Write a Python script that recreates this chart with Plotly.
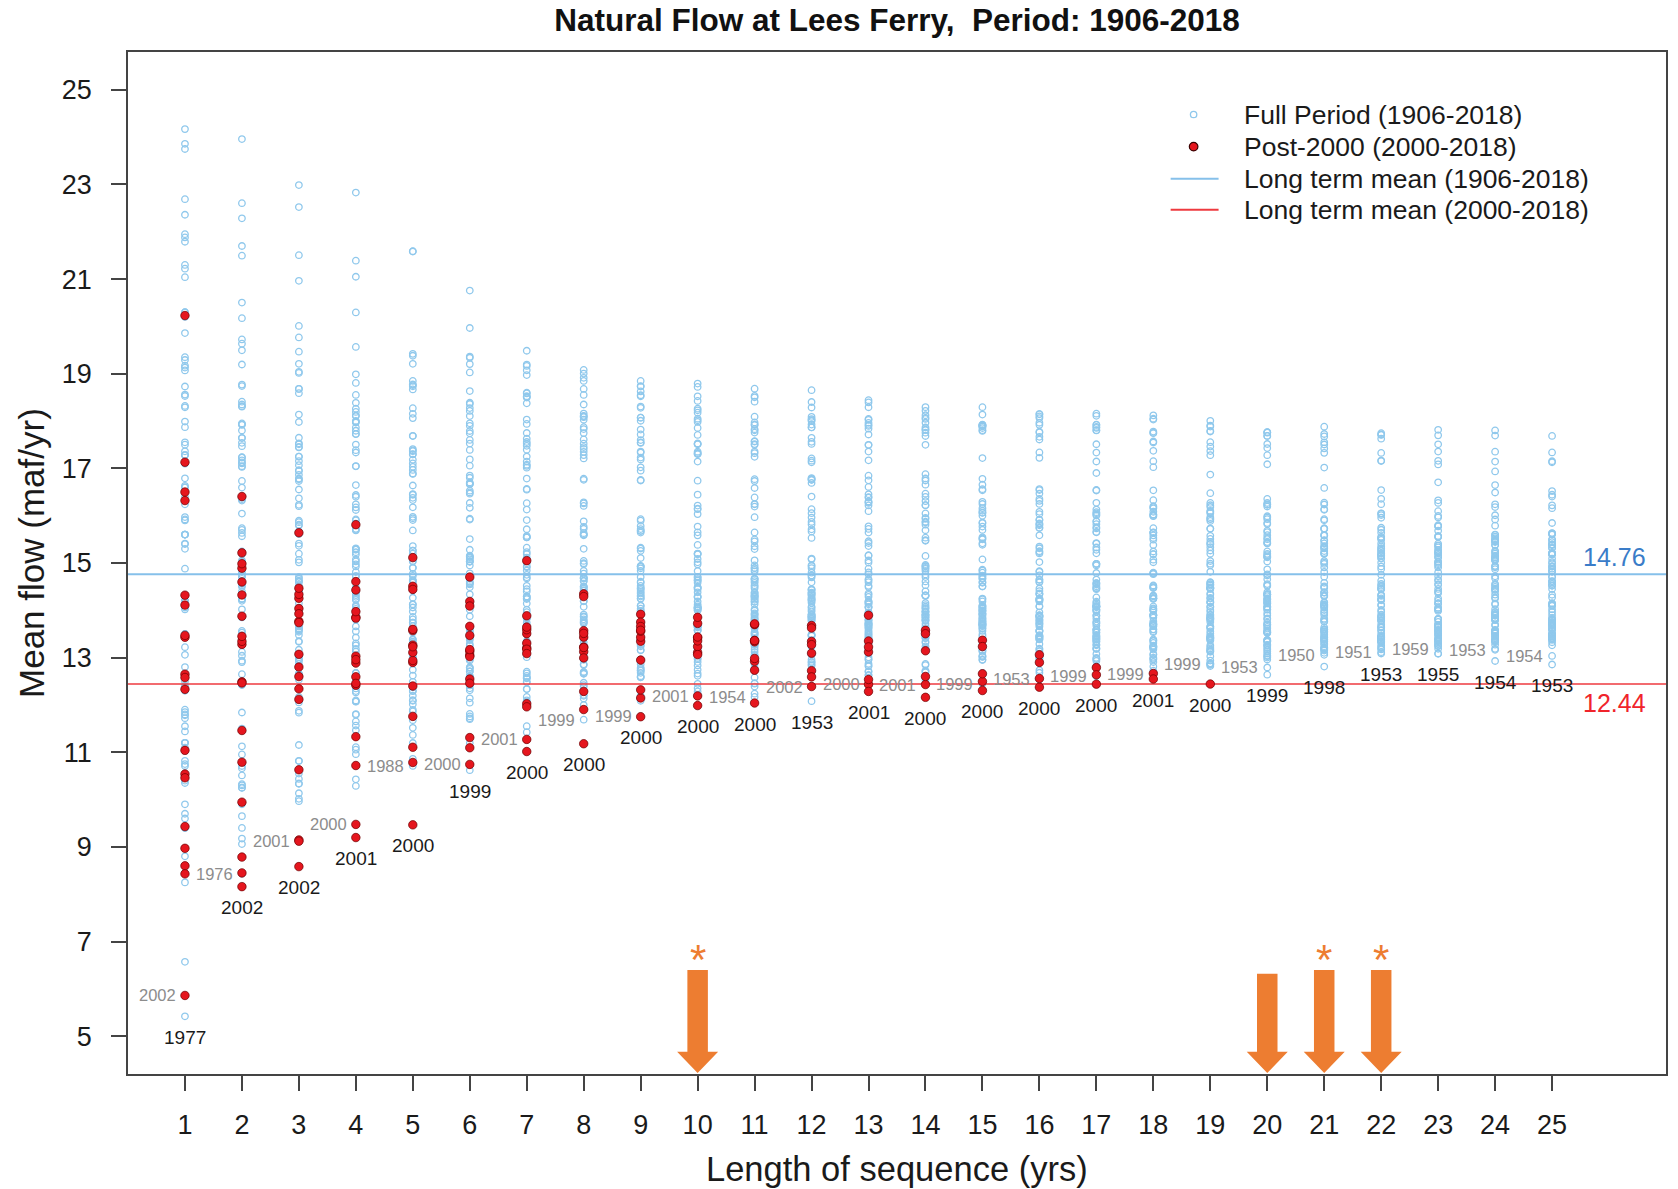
import numpy as np
import plotly.graph_objects as go

# ---------------- data ----------------
first_year = 1906
# annual natural flow at Lees Ferry (maf/yr), water years 1906-2018 (read/estimated)
annual_flow = [
    17.50, 21.95, 12.30, 21.79, 13.50, 15.30, 20.30, 15.60, 21.22, 14.06,   # 1906-1915
    19.13, 23.86, 15.41, 13.06, 21.88, 22.69, 18.32, 18.29, 15.92, 13.22,   # 1916-1925
    15.90, 18.56, 17.28, 20.20, 14.88, 8.80, 17.28, 11.78, 6.57, 11.55,     # 1926-1935
    14.32, 14.17, 17.10, 11.90, 8.60, 18.53, 19.86, 14.20, 15.60, 14.02,    # 1936-1945
    10.82, 15.97, 16.79, 17.55, 12.50, 12.40, 20.30, 11.10, 9.40, 9.90,     # 1946-1955
    10.75, 19.35, 17.28, 9.60, 11.72, 9.70, 17.36, 8.45, 10.35, 19.17,      # 1956-1965
    11.20, 11.80, 13.50, 14.20, 14.20, 15.60, 11.20, 19.29, 12.80, 16.60,   # 1966-1975
    11.44, 5.42, 15.60, 17.87, 17.99, 8.25, 16.60, 23.75, 24.17, 21.04,     # 1976-1985
    22.36, 16.63, 11.85, 10.40, 9.40, 11.20, 10.71, 18.73, 12.40, 19.07,    # 1986-1995
    15.40, 21.30, 16.24, 16.40,                                             # 1996-1999
    10.54, 11.04, 5.86, 10.46, 9.43, 17.13, 12.65, 12.33, 16.32, 14.11,     # 2000-2009
    12.58, 20.23, 8.97, 8.60, 14.32, 13.43, 13.47, 16.50, 8.43,             # 2010-2018
]
post_start_year = 2000
seq_lengths = list(range(1, 26))
# start year of lowest (black) and second-lowest (grey) window per sequence length
min_label_years = [1977, 2002, 2002, 2001, 2000, 1999, 2000, 2000, 2000, 2000, 2000, 1953, 2001,
                   2000, 2000, 2000, 2000, 2001, 2000, 1999, 1998, 1953, 1955, 1954, 1953]
second_label_years = [2002, 1976, 2001, 2000, 1988, 2000, 2001, 1999, 1999, 2001, 1954, 2002, 2000,
                      2001, 1999, 1953, 1999, 1999, 1999, 1953, 1950, 1951, 1959, 1953, 1954]
arrow_lengths = [10, 20, 21, 22]
starred_lengths = [10, 21, 22]
legend_labels = ["Full Period (1906-2018)", "Post-2000 (2000-2018)",
                 "Long term mean (1906-2018)", "Long term mean (2000-2018)"]

# ---------------- computation ----------------
flow = np.array(annual_flow, dtype=float)
years = np.arange(first_year, first_year + len(flow))
csum = np.concatenate([[0.0], np.cumsum(flow)])


def window_means(n):
    m = (csum[n:] - csum[:-n]) / n
    return years[:len(m)], m


bx, by, rx, ry = [], [], [], []
for n in seq_lengths:
    s, m = window_means(n)
    bx += [n] * len(m)
    by += list(m)
    sel = s >= post_start_year
    rx += [n] * int(sel.sum())
    ry += list(m[sel])

mean_full = flow.mean()
mean_post = flow[years >= post_start_year].mean()

FONT = "Liberation Sans, Arial, Helvetica, sans-serif"
XR = [0, 27]
YR = [4.2, 25.8]
BLUE_PT = "#8FC8EC"
BLUE_LINE = "#86C0EA"
RED = "#E5161E"
RED_LINE = "#EE3A3F"
ORANGE = "#ED7D31"

# plot-area pixel geometry (for legend placement)
W, H = 1678, 1189
ML, MR, MT, MB = 128, 10, 52, 115
PW, PH = W - ML - MR, H - MT - MB


def px(xp):
    return (xp - ML) / PW


def py(yp):
    return (H - MB - yp) / PH


fig = go.Figure()
fig.add_trace(go.Scatter(
    x=bx, y=by, mode="markers", name=legend_labels[0],
    marker=dict(symbol="circle-open", size=6.5, color=BLUE_PT, line=dict(width=1.3, color=BLUE_PT)),
    hoverinfo="skip"))
fig.add_trace(go.Scatter(
    x=XR, y=[mean_full, mean_full], mode="lines", name=legend_labels[2],
    line=dict(color=BLUE_LINE, width=2), hoverinfo="skip"))
fig.add_trace(go.Scatter(
    x=XR, y=[mean_post, mean_post], mode="lines", name=legend_labels[3],
    line=dict(color=RED_LINE, width=1.6), hoverinfo="skip"))
fig.add_trace(go.Scatter(
    x=rx, y=ry, mode="markers", name=legend_labels[1],
    marker=dict(symbol="circle", size=8.5, color=RED, line=dict(width=0.7, color="#6E0000")),
    hoverinfo="skip"))

annotations = []
for n, yb, yg in zip(seq_lengths, min_label_years, second_label_years):
    s, m = window_means(n)
    vb = m[s == yb][0]
    vg = m[s == yg][0]
    annotations.append(dict(x=n, y=vb, xref="x", yref="y", text=str(yb), showarrow=False,
                            xanchor="center", yanchor="middle", yshift=-21,
                            font=dict(family=FONT, size=19, color="#1A1A1A")))
    annotations.append(dict(x=n, y=vg, xref="x", yref="y", text=str(yg), showarrow=False,
                            xanchor="right", yanchor="middle", xshift=-7,
                            font=dict(family=FONT, size=16.5, color="#8C8C8C")))

# mean value labels at right
annotations.append(dict(x=26.1, y=mean_full, xref="x", yref="y", text=f"{mean_full:.2f}",
                        showarrow=False, yshift=17, font=dict(family=FONT, size=25, color="#3A7CC8")))
annotations.append(dict(x=26.1, y=mean_post, xref="x", yref="y", text=f"{mean_post:.2f}",
                        showarrow=False, yshift=-19, font=dict(family=FONT, size=25, color="#F0242B")))

# axis titles
annotations.append(dict(x=0.5, y=-0.0925, xref="paper", yref="paper", text="Length of sequence (yrs)",
                        showarrow=False, xanchor="center", yanchor="middle",
                        font=dict(family=FONT, size=34.5, color="#1A1A1A")))
annotations.append(dict(x=-0.0623, y=0.51, xref="paper", yref="paper", text="Mean flow (maf/yr)",
                        showarrow=False, xanchor="center", yanchor="middle", textangle=-90,
                        font=dict(family=FONT, size=35, color="#1A1A1A")))

shapes = []

# manual legend (no box, like the original)
row_y = [114.5, 146.6, 178.7, 209.8]
sym_x = 1195
for lab, ry_ in zip(legend_labels, row_y):
    annotations.append(dict(x=px(1243.5), y=py(ry_), xref="paper", yref="paper", text=lab,
                            showarrow=False, xanchor="left", yanchor="middle",
                            font=dict(family=FONT, size=26.5, color="#1A1A1A")))
shapes.append(dict(type="circle", xref="paper", yref="paper", xsizemode="pixel", ysizemode="pixel",
                   xanchor=px(sym_x), yanchor=py(row_y[0]), x0=-3.2, x1=3.2, y0=-3.2, y1=3.2,
                   line=dict(color=BLUE_PT, width=1.3), fillcolor="rgba(0,0,0,0)"))
shapes.append(dict(type="circle", xref="paper", yref="paper", xsizemode="pixel", ysizemode="pixel",
                   xanchor=px(sym_x), yanchor=py(row_y[1]), x0=-4.3, x1=4.3, y0=-4.3, y1=4.3,
                   line=dict(color="#3A0000", width=1.2), fillcolor=RED))
shapes.append(dict(type="line", xref="paper", yref="paper", x0=px(1172), x1=px(1220),
                   y0=py(row_y[2]), y1=py(row_y[2]), line=dict(color=BLUE_LINE, width=2)))
shapes.append(dict(type="line", xref="paper", yref="paper", x0=px(1172), x1=px(1220),
                   y0=py(row_y[3]), y1=py(row_y[3]), line=dict(color=RED_LINE, width=2)))

# orange arrows and asterisks
arrow_tops = {10: 6.40, 20: 6.32, 21: 6.40, 22: 6.40}
for L in arrow_lengths:
    top = arrow_tops.get(L, 6.4)
    hw, hh, base, tip = 0.18, 0.36, 4.67, 4.22
    path = (f"M {L-hw},{top} L {L+hw},{top} L {L+hw},{base} L {L+hh},{base} "
            f"L {L},{tip} L {L-hh},{base} L {L-hw},{base} Z")
    shapes.append(dict(type="path", path=path, xref="x", yref="y", fillcolor=ORANGE,
                       line=dict(width=0), layer="above"))
for L in starred_lengths:
    annotations.append(dict(x=L, y=6.62, xref="x", yref="y", text="*", showarrow=False,
                            xanchor="center", yanchor="middle",
                            font=dict(family=FONT, size=42, color=ORANGE)))

axis_common = dict(showgrid=False, zeroline=False, showline=True, mirror=True, linecolor="#444",
                   linewidth=1.6, ticks="outside", ticklen=15, tickwidth=1.5, tickcolor="#444",
                   tickfont=dict(family=FONT, size=27, color="#1A1A1A"))

fig.update_layout(
    width=W, height=H,
    margin=dict(l=ML, r=MR, t=MT, b=MB),
    paper_bgcolor="white", plot_bgcolor="white",
    title=dict(text="Natural Flow at Lees Ferry,\u00a0 Period: 1906-2018", x=0.5, xref="paper",
               xanchor="center", y=1 - 20 / H, yanchor="middle",
               font=dict(family=FONT, size=31.5, color="#111", weight="bold")),
    xaxis=dict(range=XR, tickvals=seq_lengths, ticklabelstandoff=11, **axis_common),
    yaxis=dict(range=YR, tickvals=list(range(5, 26, 2)), ticklabelstandoff=14, **axis_common),
    showlegend=False,
    annotations=annotations,
    shapes=shapes,
)

fig.write_html("out.html", config={"displayModeBar": False},
               post_script="document.body.style.margin='0';document.body.style.overflow='hidden';")
